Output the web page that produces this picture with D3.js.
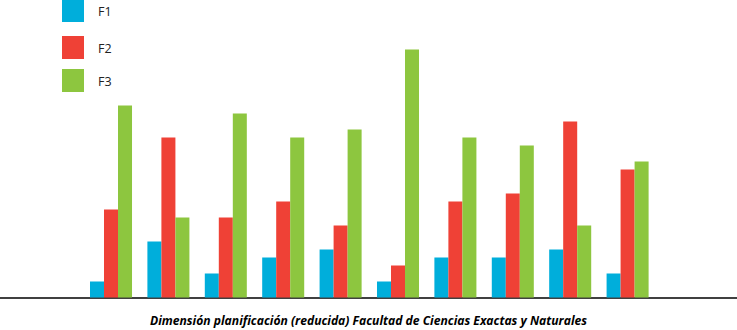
<!DOCTYPE html>
<html>
<head>
<meta charset="utf-8">
<script src="https://cdn.jsdelivr.net/npm/d3@7"></script>
<style>
  html, body { margin: 0; padding: 0; background: #fff; }
  svg { display: block; }
</style>
</head>
<body>
<svg id="chart" width="737" height="330"></svg>
<script>
const categories = ["1", "2", "3", "4", "5", "6", "7", "8", "9", "10"];
const seriesNames = ["F1", "F2", "F3"];
const f1Values = [2, 7, 3, 5, 6, 2, 5, 5, 6, 3];
const f2Values = [11, 20, 10, 12, 9, 4, 12, 13, 22, 16];
const f3Values = [24, 10, 23, 20, 21, 31, 20, 19, 9, 17];
const xTitle = "Dimensión planificación (reducida) Facultad de Ciencias Exactas y Naturales";

const colors = ["#00AEDB", "#EF4136", "#8DC63F"];
const seriesValues = [f1Values, f2Values, f3Values];

const svg = d3.select("#chart");
const W = 737, H = 330;

const x = d3.scaleBand().domain(categories).range([90, 648.6]).paddingInner(0.268).paddingOuter(0);
const xs = d3.scaleBand().domain(seriesNames).range([0, x.bandwidth()]).padding(0);
const y = d3.scaleLinear().domain([0, 31]).range([297.5, 49.5]);

// axis line
svg.append("line")
  .attr("x1", 0).attr("x2", W)
  .attr("y1", 298).attr("y2", 298)
  .attr("stroke", "#000").attr("stroke-width", 1.3);

const groups = svg.append("g").selectAll("g")
  .data(categories)
  .join("g")
  .attr("transform", d => `translate(${x(d)},0)`);

groups.selectAll("rect")
  .data((d, i) => seriesNames.map((s, k) => ({ s, k, v: seriesValues[k][i] })))
  .join("rect")
  .attr("x", d => xs(d.s))
  .attr("width", xs.bandwidth())
  .attr("y", d => y(d.v))
  .attr("height", d => y(0) - y(d.v))
  .attr("fill", d => colors[d.k]);

// legend
const legendY = [0, 36, 69];
const lg = svg.append("g").selectAll("g")
  .data(seriesNames)
  .join("g")
  .attr("transform", (d, i) => `translate(62,${legendY[i]})`);
lg.append("rect")
  .attr("width", 22).attr("height", 23)
  .attr("y", (d, i) => i === 0 ? -1 : 0)
  .attr("fill", (d, i) => colors[i]);
lg.append("text")
  .attr("x", 36).attr("y", (d, i) => i === 0 ? 12 : 12.5)
  .attr("dy", "0.35em")
  .attr("font-family", "'Open Sans', sans-serif")
  .attr("font-size", 12.5)
  .attr("fill", "#222")
  .text(d => d);

// x title
svg.append("text")
  .attr("x", 368.5).attr("y", 325)
  .attr("text-anchor", "middle")
  .attr("font-family", "'Open Sans', Arial, sans-serif")
  .attr("font-size", 11.5)
  .attr("font-weight", "bold")
  .attr("font-style", "italic")
  .attr("fill", "#000")
  .attr("textLength", 437)
  .attr("lengthAdjust", "spacingAndGlyphs")
  .text(xTitle);
</script>
</body>
</html>
